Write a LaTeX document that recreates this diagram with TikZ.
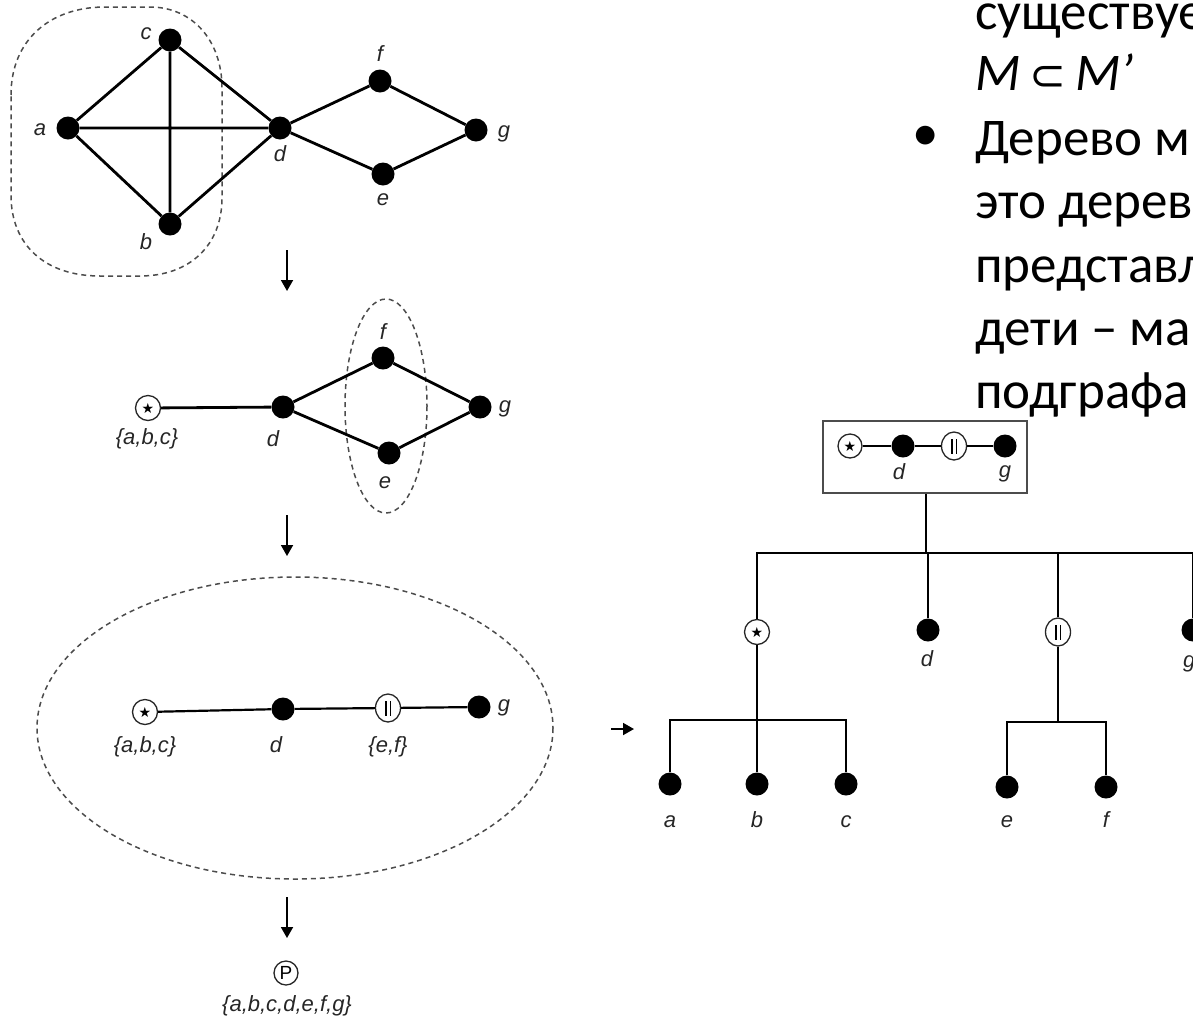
\documentclass[tikz,border=0pt]{standalone}
\usepackage{fontspec}
\setmainfont{Carlito}
\newfontfamily\labfont{Liberation Sans}
\newfontfamily\symfont{DejaVu Sans}
\usetikzlibrary{arrows.meta,shapes.geometric}
\newcommand\starglyph{{\symfont\fontsize{14}{14}\selectfont ★}}
\newcommand\parglyph{\rule{1.6pt}{15pt}\hspace{3pt}\rule{1.6pt}{15pt}}
\newcommand\primeglyph{{\labfont\fontsize{19}{19}\selectfont P}}
\begin{document}
\begin{tikzpicture}[x=1pt,y=-1pt,
  dot/.style={circle,fill=black,inner sep=0pt,minimum size=23pt},
  opn/.style={circle,draw=black!85,line width=1.3pt,fill=white,inner sep=0pt,minimum size=25pt},
  parnode/.style={opn,ellipse,minimum width=25pt,minimum height=28pt},
  lbl/.style={font=\labfont\itshape\fontsize{22}{22}\selectfont,inner sep=0pt,text=black!85,anchor=base},
  edge/.style={line width=2.8pt},
  tedge/.style={line width=2.2pt},
  dsh/.style={line width=1.5pt,dash pattern=on 5pt off 4pt,black!70},
  arr/.style={line width=1.8pt,-{Triangle[width=12pt,length=11pt]}},
  txt/.style={font=\fontsize{53}{53}\selectfont,anchor=base west,inner sep=0pt}
]
\useasboundingbox (0,0) rectangle (1193,1026);
\clip (0,0) rectangle (1193,1026);

% ---------- original graph ----------
\draw[dsh] (11,95) .. controls (11,40) and (50,7) .. (105,7) -- (150,7)
  .. controls (192,7) and (222,40) .. (222,88) -- (222,198)
  .. controls (222,245) and (190,276) .. (140,276) -- (100,276)
  .. controls (45,276) and (11,245) .. (11,195) -- cycle;
\node[dot] (a1) at (68,128) {};
\node[dot] (c1) at (170,40) {};
\node[dot] (b1) at (170,224) {};
\node[dot] (d1) at (280,128) {};
\node[dot] (f1) at (380,81) {};
\node[dot] (e1) at (383,174) {};
\node[dot] (g1) at (476,130) {};
\draw[edge] (a1) -- (c1) (a1) -- (b1) (a1) -- (d1) (c1) -- (b1) (c1) -- (d1) (b1) -- (d1)
  (d1) -- (f1) (d1) -- (e1) (f1) -- (g1) (e1) -- (g1);
\node[lbl] (la1) at (40,135) {a};
\node[lbl] (lc1) at (146,39) {c};
\node[lbl] (lb1) at (146,249) {b};
\node[lbl] (ld1) at (280,161) {d};
\node[lbl] (lf1) at (380,61) {f};
\node[lbl] (le1) at (383,205) {e};
\node[lbl] (lg1) at (504,137) {g};

\coordinate (ar1s) at (287,250);
\coordinate (ar1e) at (287,291);
\draw[arr] (ar1s) -- (ar1e);

% ---------- after collapsing {a,b,c} ----------
\draw[dsh] (386,406) ellipse [x radius=41, y radius=107];
\node[opn] (s2) at (148,408) {\starglyph};
\node[dot] (d2) at (283,407) {};
\node[dot] (f2) at (383,358) {};
\node[dot] (e2) at (389,453) {};
\node[dot] (g2) at (480,407) {};
\draw[edge] (s2) -- (d2) (d2) -- (f2) (d2) -- (e2) (f2) -- (g2) (e2) -- (g2);
\node[lbl] (ls2) at (147,444) {\{a,b,c\}};
\node[lbl] (ld2) at (273,446) {d};
\node[lbl] (lf2) at (383,339) {f};
\node[lbl] (le2) at (385,488) {e};
\node[lbl] (lg2) at (505,412) {g};

\coordinate (ar2s) at (287,515);
\coordinate (ar2e) at (287,556);
\draw[arr] (ar2s) -- (ar2e);

% ---------- quotient path ----------
\draw[dsh] (295,728) ellipse [x radius=258, y radius=151];
\node[opn] (s3) at (145,712) {\starglyph};
\node[dot] (d3) at (283,709) {};
\node[parnode] (p3) at (388,708) {\parglyph};
\node[dot] (g3) at (479,707) {};
\draw[tedge] (s3) -- (d3) -- (p3) -- (g3);
\node[lbl] (ls3) at (145,752) {\{a,b,c\}};
\node[lbl] (ld3) at (276,752) {d};
\node[lbl] (lp3) at (388,752) {\{e,f\}};
\node[lbl] (lg3) at (504,711) {g};

\coordinate (ar3s) at (287,897);
\coordinate (ar3e) at (287,938);
\draw[arr] (ar3s) -- (ar3e);
\node[opn,minimum size=24pt] (pp) at (286,973) {\primeglyph};
\node[lbl] (lpp) at (287,1011) {\{a,b,c,d,e,f,g\}};

\coordinate (ar4s) at (611,729);
\coordinate (ar4e) at (634,729);
\draw[arr] (ar4s) -- (ar4e);

% ---------- modular decomposition tree ----------
\node[draw=black!70,line width=1.5pt,minimum width=204pt,minimum height=72pt,inner sep=0pt] (box) at (925,457) {};
\node[opn,minimum size=24pt] (bs) at (850,446) {\starglyph};
\node[dot] (bd) at (903,446) {};
\node[parnode] (bp) at (954,446) {\parglyph};
\node[dot] (bg) at (1005,446) {};
\draw[tedge] (bs) -- (bd) -- (bp) -- (bg);
\node[lbl] (lbd) at (899,479) {d};
\node[lbl] (lbg) at (1005,477) {g};

\coordinate (j0) at (926,553);
\node[opn] (ts) at (757,632) {\starglyph};
\node[dot] (td) at (928,630) {};
\node[parnode] (tp) at (1058,632) {\parglyph};
\node[dot] (tg) at (1193,630) {};
\draw[tedge] (box.south -| j0) -- (j0);
\draw[tedge] (ts) -- (ts |- j0) -- (tg |- j0) -- (tg);
\draw[tedge] (td) -- (td |- j0);
\draw[tedge] (tp) -- (tp |- j0);
\node[lbl] (ltd) at (927,666) {d};
\node[lbl,anchor=base west] (ltg) at (1183,667) {g};

\coordinate (k1) at (757,720);
\node[dot] (ta) at (670,784) {};
\node[dot] (tb) at (757,784) {};
\node[dot] (tc) at (846,784) {};
\draw[tedge] (ta) -- (ta |- k1) -- (tc |- k1) -- (tc);
\draw[tedge] (ts) -- (tb);
\node[lbl] (lta) at (670,827) {a};
\node[lbl] (ltb) at (757,827) {b};
\node[lbl] (ltc) at (846,827) {c};

\coordinate (k2) at (1058,722);
\node[dot] (te) at (1007,787) {};
\node[dot] (tf) at (1106,787) {};
\draw[tedge] (te) -- (te |- k2) -- (tf |- k2) -- (tf);
\draw[tedge] (tp) -- (k2);
\node[lbl] (lte) at (1007,827) {e};
\node[lbl] (ltf) at (1106,827) {f};

% ---------- text ----------
\node[txt] (t1) at (975,29) {существуе};
\node[txt] (t2) at (975,90) {\itshape M\,{\upshape\symfont\fontsize{44}{44}\selectfont ⊂}\,M’};
\node[txt,anchor=center] (bul) at (926,138) {•};
\node[txt] (t3) at (975,155) {Дерево м};
\node[txt] (t4) at (975,218) {это дерев};
\node[txt] (t5) at (975,282) {представл};
\node[txt] (t6) at (975,345) {дети – ма};
\node[txt] (t7) at (975,408) {подграфа};
\end{tikzpicture}
\end{document}
